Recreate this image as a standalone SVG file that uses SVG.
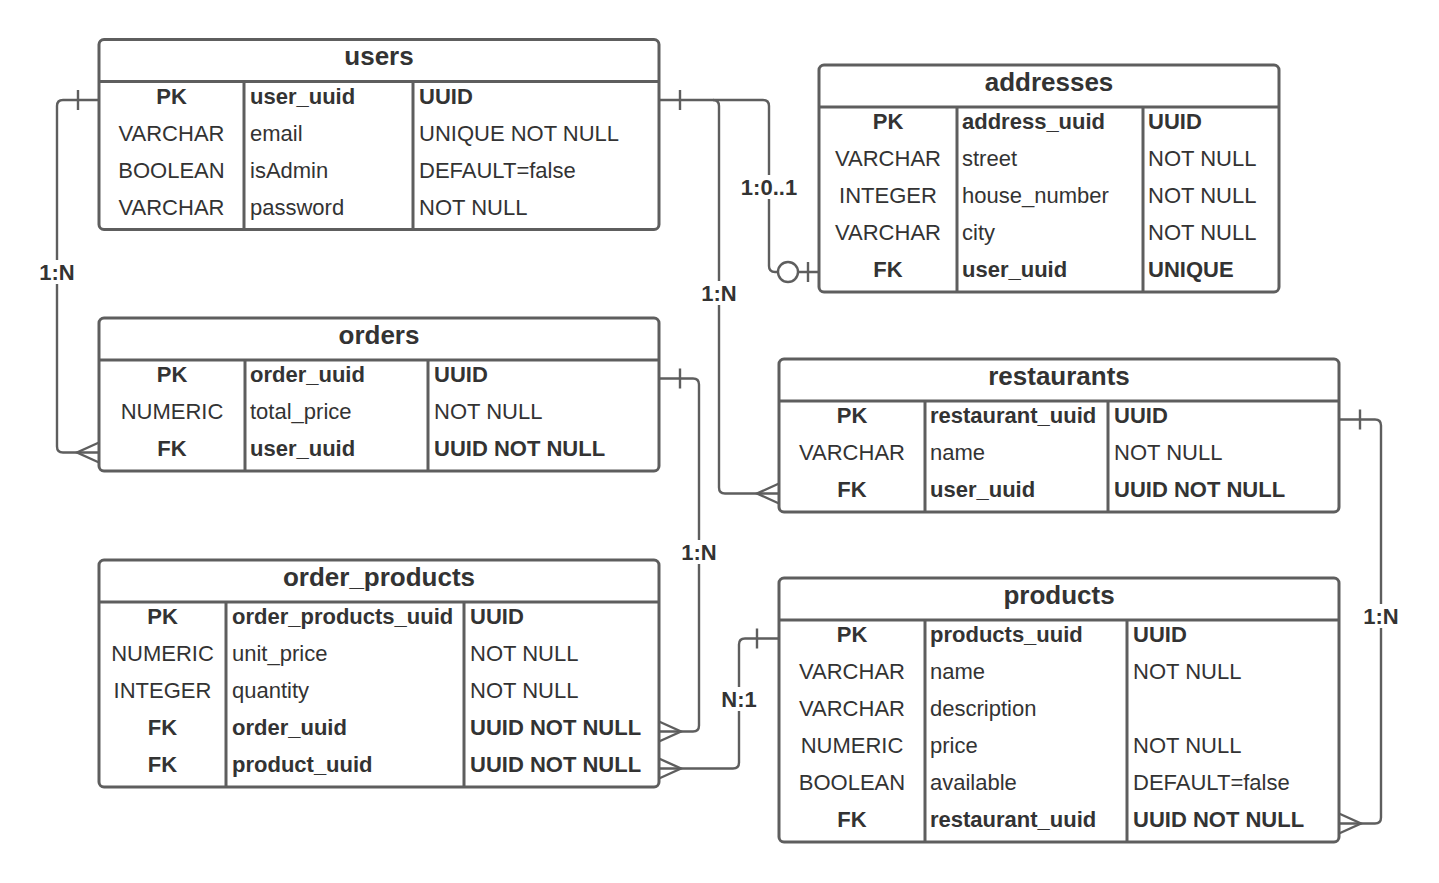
<svg xmlns="http://www.w3.org/2000/svg" width="1439" height="883" viewBox="0 0 1439 883">
<style>
.box{fill:#fff;stroke:#5e5e5e;stroke-width:3}
.ln{stroke:#5e5e5e;stroke-width:3;fill:none}
.t{font-family:"Liberation Sans",Arial,sans-serif;font-size:22px;fill:#333}
.t text{transform:translateY(-1px)}
.b{font-weight:bold}
.c{text-anchor:middle}
.title{font-family:"Liberation Sans",Arial,sans-serif;font-size:26px;font-weight:bold;fill:#333;text-anchor:middle}
.conn{fill:none;stroke:#5e5e5e;stroke-width:2.4}
.lbl{font-family:"Liberation Sans",Arial,sans-serif;font-size:22px;font-weight:bold;fill:#333;text-anchor:middle}
.bg{fill:#fff}
</style>
<rect width="1439" height="883" fill="#fff"/>
<g id="users">
<rect class="box" x="99" y="39.5" width="560" height="190" rx="5"/>
<path class="ln" d="M99 81.5H659M244 81.5V229.5M413 81.5V229.5"/>
<text class="title" x="379" y="65">users</text>
<g class="t">
<text class="b c" x="171.5" y="104.5">PK</text><text class="b" x="250" y="104.5">user_uuid</text><text class="b" x="419" y="104.5">UUID</text>
<text class="c" x="171.5" y="141.5">VARCHAR</text><text x="250" y="141.5">email</text><text x="419" y="141.5">UNIQUE NOT NULL</text>
<text class="c" x="171.5" y="178.5">BOOLEAN</text><text x="250" y="178.5">isAdmin</text><text x="419" y="178.5">DEFAULT=false</text>
<text class="c" x="171.5" y="215.5">VARCHAR</text><text x="250" y="215.5">password</text><text x="419" y="215.5">NOT NULL</text>
</g>
</g>
<g id="addresses">
<rect class="box" x="819" y="65" width="460" height="227" rx="5"/>
<path class="ln" d="M819 107H1279M957 107V292M1143 107V292"/>
<text class="title" x="1049" y="90.5">addresses</text>
<g class="t">
<text class="b c" x="888" y="130">PK</text><text class="b" x="962" y="130">address_uuid</text><text class="b" x="1148" y="130">UUID</text>
<text class="c" x="888" y="167">VARCHAR</text><text x="962" y="167">street</text><text x="1148" y="167">NOT NULL</text>
<text class="c" x="888" y="204">INTEGER</text><text x="962" y="204">house_number</text><text x="1148" y="204">NOT NULL</text>
<text class="c" x="888" y="241">VARCHAR</text><text x="962" y="241">city</text><text x="1148" y="241">NOT NULL</text>
<text class="b c" x="888" y="278">FK</text><text class="b" x="962" y="278">user_uuid</text><text class="b" x="1148" y="278">UNIQUE</text>
</g>
</g>
<g id="orders">
<rect class="box" x="99" y="318" width="560" height="153" rx="5"/>
<path class="ln" d="M99 360H659M245 360V471M428 360V471"/>
<text class="title" x="379" y="343.5">orders</text>
<g class="t">
<text class="b c" x="172" y="383">PK</text><text class="b" x="250" y="383">order_uuid</text><text class="b" x="434" y="383">UUID</text>
<text class="c" x="172" y="420">NUMERIC</text><text x="250" y="420">total_price</text><text x="434" y="420">NOT NULL</text>
<text class="b c" x="172" y="457">FK</text><text class="b" x="250" y="457">user_uuid</text><text class="b" x="434" y="457">UUID NOT NULL</text>
</g>
</g>
<g id="restaurants">
<rect class="box" x="779" y="359" width="560" height="153" rx="5"/>
<path class="ln" d="M779 401H1339M925 401V512M1108 401V512"/>
<text class="title" x="1059" y="384.5">restaurants</text>
<g class="t">
<text class="b c" x="852" y="424">PK</text><text class="b" x="930" y="424">restaurant_uuid</text><text class="b" x="1114" y="424">UUID</text>
<text class="c" x="852" y="461">VARCHAR</text><text x="930" y="461">name</text><text x="1114" y="461">NOT NULL</text>
<text class="b c" x="852" y="498">FK</text><text class="b" x="930" y="498">user_uuid</text><text class="b" x="1114" y="498">UUID NOT NULL</text>
</g>
</g>
<g id="order_products">
<rect class="box" x="99" y="560" width="560" height="227" rx="5"/>
<path class="ln" d="M99 602H659M226 602V787M464 602V787"/>
<text class="title" x="379" y="585.5">order_products</text>
<g class="t">
<text class="b c" x="162.5" y="625">PK</text><text class="b" x="232" y="625">order_products_uuid</text><text class="b" x="470" y="625">UUID</text>
<text class="c" x="162.5" y="662">NUMERIC</text><text x="232" y="662">unit_price</text><text x="470" y="662">NOT NULL</text>
<text class="c" x="162.5" y="699">INTEGER</text><text x="232" y="699">quantity</text><text x="470" y="699">NOT NULL</text>
<text class="b c" x="162.5" y="736">FK</text><text class="b" x="232" y="736">order_uuid</text><text class="b" x="470" y="736">UUID NOT NULL</text>
<text class="b c" x="162.5" y="773">FK</text><text class="b" x="232" y="773">product_uuid</text><text class="b" x="470" y="773">UUID NOT NULL</text>
</g>
</g>
<g id="products">
<rect class="box" x="779" y="578" width="560" height="264" rx="5"/>
<path class="ln" d="M779 620H1339M925 620V842M1127 620V842"/>
<text class="title" x="1059" y="603.5">products</text>
<g class="t">
<text class="b c" x="852" y="643">PK</text><text class="b" x="930" y="643">products_uuid</text><text class="b" x="1133" y="643">UUID</text>
<text class="c" x="852" y="680">VARCHAR</text><text x="930" y="680">name</text><text x="1133" y="680">NOT NULL</text>
<text class="c" x="852" y="717">VARCHAR</text><text x="930" y="717">description</text>
<text class="c" x="852" y="754">NUMERIC</text><text x="930" y="754">price</text><text x="1133" y="754">NOT NULL</text>
<text class="c" x="852" y="791">BOOLEAN</text><text x="930" y="791">available</text><text x="1133" y="791">DEFAULT=false</text>
<text class="b c" x="852" y="828">FK</text><text class="b" x="930" y="828">restaurant_uuid</text><text class="b" x="1133" y="828">UUID NOT NULL</text>
</g>
</g>
<g id="connectors">
<path class="conn" d="M99 100H63Q57 100 57 106V446.5Q57 452.5 63 452.5H99"/>
<path class="conn" d="M78 90V110M99 442.5L77 452.5L99 462.5"/>
<rect class="bg" x="37" y="260" width="40" height="24"/>
<text class="lbl" x="57" y="280">1:N</text>
<path class="conn" d="M659 100H763Q769 100 769 106V266Q769 272 775 272H819"/>
<path class="conn" d="M680 90V110M808 262V282"/>
<circle cx="788" cy="272" r="10" fill="#fff" stroke="#5e5e5e" stroke-width="2.4"/>
<rect class="bg" x="739" y="175" width="60" height="24"/>
<text class="lbl" x="769" y="195">1:0..1</text>
<path class="conn" d="M713 100Q719 100 719 106V487.5Q719 493.5 725 493.5H779"/>
<path class="conn" d="M779 483.5L757 493.5L779 503.5"/>
<rect class="bg" x="699" y="281" width="40" height="24"/>
<text class="lbl" x="719" y="301">1:N</text>
<path class="conn" d="M659 378.5H693Q699 378.5 699 384.5V725.5Q699 731.5 693 731.5H659"/>
<path class="conn" d="M680 368.5V388.5M659 721.5L681 731.5L659 741.5"/>
<rect class="bg" x="679" y="540" width="40" height="24"/>
<text class="lbl" x="699" y="560">1:N</text>
<path class="conn" d="M659 768.5H733Q739 768.5 739 762.5V644.5Q739 638.5 745 638.5H779"/>
<path class="conn" d="M757 628.5V648.5M659 758.5L681 768.5L659 778.5"/>
<rect class="bg" x="719" y="687" width="40" height="24"/>
<text class="lbl" x="739" y="707">N:1</text>
<path class="conn" d="M1339 419.5H1375Q1381 419.5 1381 425.5V817.5Q1381 823.5 1375 823.5H1339"/>
<path class="conn" d="M1360 409.5V429.5M1339 813.5L1361 823.5L1339 833.5"/>
<rect class="bg" x="1361" y="604" width="40" height="24"/>
<text class="lbl" x="1381" y="624">1:N</text>
</g>
</svg>
